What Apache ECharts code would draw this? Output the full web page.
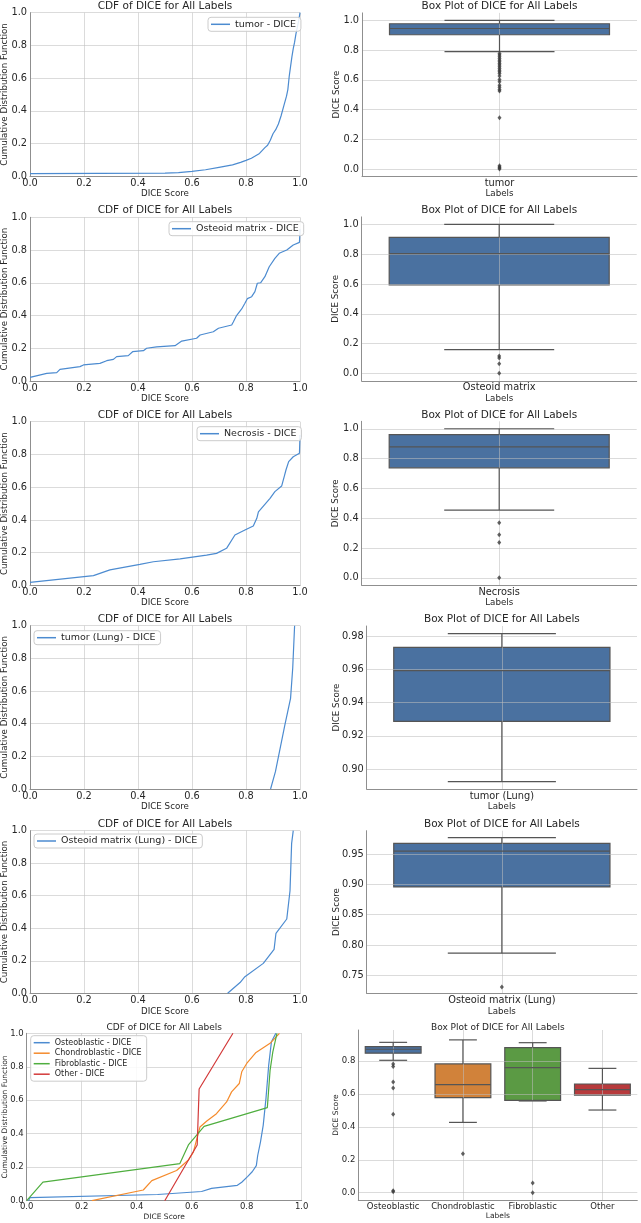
<!DOCTYPE html>
<html>
<head>
<meta charset="utf-8">
<title>DICE CDF and box plots</title>
<script src="https://cdn.jsdelivr.net/npm/echarts@6/dist/echarts.min.js"></script>
<style>
  html, body { margin: 0; padding: 0; background: #ffffff; }
  #chart { width: 641px; height: 1223px; }
</style>
</head>
<body>
<div id="chart"></div>
<script>
// ---- values ----
// CDF curves: [DICE score, cumulative fraction]
const tumorCdf = [[0, 0.016], [0.5, 0.02], [0.55, 0.022], [0.6, 0.03], [0.65, 0.04], [0.7, 0.055], [0.75, 0.07], [0.78, 0.085], [0.8, 0.097], [0.82, 0.11], [0.85, 0.14], [0.87, 0.175], [0.88, 0.19], [0.89, 0.22], [0.9, 0.26], [0.91, 0.285], [0.92, 0.32], [0.93, 0.37], [0.94, 0.43], [0.95, 0.49], [0.955, 0.53], [0.96, 0.61], [0.965, 0.67], [0.97, 0.73], [0.975, 0.78], [0.98, 0.82], [0.985, 0.87], [0.99, 0.91], [0.995, 0.95], [1.0, 1.0]]
const osteoidCdf = [[0, 0.022], [0.062, 0.047], [0.099, 0.051], [0.111, 0.071], [0.185, 0.088], [0.198, 0.098], [0.259, 0.108], [0.284, 0.124], [0.309, 0.132], [0.321, 0.149], [0.364, 0.155], [0.38, 0.179], [0.42, 0.185], [0.432, 0.2], [0.469, 0.208], [0.537, 0.216], [0.562, 0.244], [0.617, 0.261], [0.63, 0.281], [0.679, 0.301], [0.698, 0.322], [0.747, 0.342], [0.753, 0.36], [0.765, 0.4], [0.784, 0.44], [0.796, 0.475], [0.805, 0.503], [0.821, 0.515], [0.833, 0.546], [0.842, 0.597], [0.854, 0.6], [0.87, 0.637], [0.886, 0.698], [0.907, 0.749], [0.923, 0.78], [0.951, 0.8], [0.975, 0.831], [0.998, 0.847], [1.0, 0.927]]
const necrosisCdf = [[0, 0.019], [0.235, 0.06], [0.296, 0.095], [0.407, 0.129], [0.457, 0.145], [0.556, 0.162], [0.654, 0.186], [0.691, 0.196], [0.728, 0.227], [0.759, 0.308], [0.796, 0.339], [0.827, 0.363], [0.84, 0.41], [0.846, 0.45], [0.889, 0.532], [0.907, 0.573], [0.932, 0.607], [0.942, 0.668], [0.948, 0.705], [0.958, 0.756], [0.975, 0.786], [0.998, 0.807], [1.0, 0.919]]
const tumorLungCdf = [[0.891, 0], [0.909, 0.106], [0.944, 0.392], [0.965, 0.555], [0.973, 0.739], [0.98, 1.0]]
const osteoidLungCdf = [[0.732, 0], [0.778, 0.066], [0.796, 0.102], [0.864, 0.184], [0.904, 0.27], [0.911, 0.369], [0.951, 0.457], [0.963, 0.631], [0.969, 0.922], [0.975, 1.0]]
const osteoblasticCdf = [[0.006, 0], [0.012, 0.018], [0.476, 0.037], [0.636, 0.055], [0.672, 0.074], [0.766, 0.092], [0.782, 0.11], [0.804, 0.145], [0.82, 0.173], [0.835, 0.21], [0.84, 0.27], [0.85, 0.35], [0.86, 0.45], [0.87, 0.61], [0.88, 0.81], [0.89, 0.95], [0.906, 1.0]]
const chondroblasticCdf = [[0.237, 0], [0.424, 0.064], [0.455, 0.12], [0.545, 0.18], [0.588, 0.243], [0.606, 0.29], [0.63, 0.44], [0.655, 0.476], [0.69, 0.52], [0.727, 0.59], [0.745, 0.65], [0.773, 0.7], [0.782, 0.77], [0.8, 0.82], [0.834, 0.886], [0.885, 0.94], [0.919, 1.0]]
const fibroblasticCdf = [[0, 0], [0.059, 0.111], [0.557, 0.222], [0.588, 0.333], [0.645, 0.444], [0.875, 0.556], [0.88, 0.667], [0.885, 0.778], [0.895, 0.889], [0.91, 1.0]]
const otherCdf = [[0.502, 0], [0.62, 0.333], [0.627, 0.667], [0.75, 1.0]]

// box stats: [lower whisker, Q1, median, Q3, upper whisker]
const tumorBox = [0.79, 0.903, 0.945, 0.977, 1.0]
const osteoidBox = [0.159, 0.593, 0.804, 0.912, 1.0]
const necrosisBox = [0.454, 0.738, 0.879, 0.96, 1.0]
const tumorLungBox = [0.8924, 0.9287, 0.9592, 0.9732, 0.9814]
const osteoidLungBox = [0.7867, 0.8959, 0.955, 0.9675, 0.977]
const subtypeLabels = ['Osteoblastic', 'Chondroblastic', 'Fibroblastic', 'Other']
const subtypeBoxes = [
  [0.804, 0.847, 0.871, 0.887, 0.913],
  [0.427, 0.577, 0.656, 0.782, 0.928],
  [0.557, 0.561, 0.759, 0.881, 0.911],
  [0.502, 0.593, 0.626, 0.66, 0.755],
]

// outliers
const tumorOut = [0.777, 0.766, 0.755, 0.744, 0.732, 0.721, 0.71, 0.699, 0.688, 0.676, 0.665, 0.654, 0.643, 0.625, 0.602, 0.587, 0.564, 0.549, 0.535, 0.524, 0.345, 0.022, 0.013, 0.007, 0.0]
const osteoidOut = [0.116, 0.103, 0.065, 0.0]
const necrosisOut = [0.369, 0.289, 0.237, 0.0]
const osteoidLungOut = [0.731]
const subtypeOut = [
  [0.782, 0.766, 0.672, 0.636, 0.476, 0.012, 0.006],
  [0.237],
  [0.059, 0.0],
  [],
]

// tick values on the box plot axes
const unitTicks = [0, 0.2, 0.4, 0.6, 0.8, 1.0]
const tumorLungTicks = [0.9, 0.92, 0.94, 0.96, 0.98]
const osteoidLungTicks = [0.75, 0.8, 0.85, 0.9, 0.95]
const subtypeTicks = [0, 0.2, 0.4, 0.6, 0.8]

// ---- styling ----
const font = 'DejaVu Sans'
const ink = '#262626'
const gridLine = 'rgba(190,190,190,0.55)'
const spine = '#8f8f8f'
const edge = '#555555'
const lineColors = ['#4c8bd0', '#f58b2c', '#4fae3f', '#d33a3a']
const boxColors = ['#4a71a0', '#d1823a', '#5b9a44', '#b73a3c']

const option = {
  animation: false,
  backgroundColor: '#ffffff',
  title: [],
  legend: [],
  grid: [],
  xAxis: [],
  yAxis: [],
  series: [],
}

function addTitle(text, x, y, size) {
  option.title.push({
    text: text, left: x, top: y, padding: 0,
    textAlign: 'center', textVerticalAlign: 'middle',
    textStyle: { fontFamily: font, fontSize: size, fontWeight: 'normal', color: ink },
  })
}

function addGrid(g) {
  option.grid.push({ left: g[0], top: g[1], width: g[2], height: g[3], containLabel: false, outerBoundsMode: 'none' })
  return option.grid.length - 1
}

function lineStyleOf(w) {
  return { stroke: edge, lineWidth: w }
}

// box face (drawn under grid lines)
function renderFace(params, api) {
  const i = api.value(0)
  const p3 = api.coord([i, api.value(4)])
  const p1 = api.coord([i, api.value(2)])
  const half = api.size([0.8, 0])[0] / 2
  return {
    type: 'rect',
    shape: { x: p3[0] - half, y: p3[1], width: half * 2, height: p1[1] - p3[1] },
    style: { fill: api.visual('color'), stroke: edge, lineWidth: 1.2 },
  }
}

// whiskers, caps and median (drawn over grid lines)
function renderWhisk(params, api) {
  const i = api.value(0)
  const lo = api.coord([i, api.value(1)])
  const q1 = api.coord([i, api.value(2)])
  const med = api.coord([i, api.value(3)])
  const q3 = api.coord([i, api.value(4)])
  const hi = api.coord([i, api.value(5)])
  const cx = med[0]
  const half = api.size([0.8, 0])[0] / 2
  const cap = half / 2
  return {
    type: 'group',
    children: [
      { type: 'line', shape: { x1: cx, y1: q3[1], x2: cx, y2: hi[1] }, style: lineStyleOf(1.2) },
      { type: 'line', shape: { x1: cx, y1: q1[1], x2: cx, y2: lo[1] }, style: lineStyleOf(1.2) },
      { type: 'line', shape: { x1: cx - cap, y1: hi[1], x2: cx + cap, y2: hi[1] }, style: lineStyleOf(1.2) },
      { type: 'line', shape: { x1: cx - cap, y1: lo[1], x2: cx + cap, y2: lo[1] }, style: lineStyleOf(1.2) },
      { type: 'line', shape: { x1: cx - half, y1: med[1], x2: cx + half, y2: med[1] }, style: lineStyleOf(1.2) },
    ],
  }
}

function cdfPanel(p) {
  const gi = addGrid(p.grid)
  const f = p.fonts
  addTitle('CDF of DICE for All Labels', p.grid[0] + p.grid[2] / 2, p.titleY, f.title)
  option.xAxis.push({
    gridIndex: gi, type: 'value', min: 0, max: 1, interval: 0.2,
    name: 'DICE Score', nameLocation: 'middle', nameGap: p.xGap, nameMoveOverlap: false,
    nameTextStyle: { fontFamily: font, fontSize: f.label, color: ink },
    axisLine: { onZero: false, lineStyle: { color: spine, width: 1 } },
    axisTick: { show: false },
    axisLabel: { margin: 2, fontFamily: font, fontSize: f.tick, color: ink, formatter: v => v.toFixed(1) },
    splitLine: { show: true, lineStyle: { color: gridLine, width: 1 } },
  })
  option.yAxis.push({
    gridIndex: gi, type: 'value', min: 0, max: 1, interval: 0.2,
    name: 'Cumulative Distribution Function', nameLocation: 'middle', nameGap: p.yGap, nameMoveOverlap: false,
    nameTextStyle: { fontFamily: font, fontSize: f.label, color: ink },
    axisLine: { show: true, onZero: false, lineStyle: { color: spine, width: 1 } },
    axisTick: { show: false },
    axisLabel: { margin: 3, fontFamily: font, fontSize: f.tick, color: ink, formatter: v => v.toFixed(1) },
    splitLine: { show: true, lineStyle: { color: gridLine, width: 1 } },
  })
  const names = []
  p.lines.forEach(function (l, k) {
    names.push({ name: l.name, icon: 'rect' })
    option.series.push({
      type: 'line', name: l.name, xAxisIndex: gi, yAxisIndex: gi,
      data: l.data, symbol: 'none', smooth: false, clip: true,
      lineStyle: { width: 1.2, color: lineColors[k] },
      itemStyle: { color: lineColors[k] },
      z: 3,
    })
  })
  option.legend.push({
    data: names, selectedMode: false,
    left: p.legend.x, top: p.legend.y,
    orient: 'vertical', itemWidth: p.legend.iconW, itemHeight: 1.5, itemGap: p.legend.gap,
    padding: p.legend.pad,
    borderColor: '#cccccc', borderWidth: 1, borderRadius: 3,
    backgroundColor: 'rgba(255,255,255,0.85)',
    textStyle: { fontFamily: font, fontSize: f.legend, color: ink },
  })
}

function boxPanel(p) {
  const gi = addGrid(p.grid)
  const f = p.fonts
  const n = p.labels.length
  const idx = p.labels.map((_, i) => i)
  addTitle('Box Plot of DICE for All Labels', p.grid[0] + p.grid[2] / 2, p.titleY, f.title)
  option.xAxis.push({
    gridIndex: gi, type: 'value', min: -0.5, max: n - 0.5, z: 2,
    name: 'Labels', nameLocation: 'middle', nameGap: p.xGap, nameMoveOverlap: false,
    nameTextStyle: { fontFamily: font, fontSize: f.label, color: ink },
    axisLine: { onZero: false, lineStyle: { color: spine, width: 1 } },
    axisTick: { show: false, customValues: idx },
    axisLabel: { margin: 2, customValues: idx, fontFamily: font, fontSize: f.tick, color: ink, formatter: v => p.labels[Math.round(v)] },
    splitLine: { show: true, lineStyle: { color: gridLine, width: 1 } },
  })
  option.yAxis.push({
    gridIndex: gi, type: 'value', min: p.yMin, max: p.yMax, z: 2,
    name: 'DICE Score', nameLocation: 'middle', nameGap: p.yGap, nameMoveOverlap: false,
    nameTextStyle: { fontFamily: font, fontSize: f.label, color: ink },
    axisLine: { show: true, onZero: false, lineStyle: { color: spine, width: 1 } },
    axisTick: { show: false, customValues: p.ticks },
    axisLabel: { margin: 3, customValues: p.ticks, fontFamily: font, fontSize: f.tick, color: ink, formatter: v => v.toFixed(p.digits) },
    splitLine: { show: true, lineStyle: { color: gridLine, width: 1 } },
  })
  const boxData = p.stats.map((s, i) => ({ value: [i].concat(s), itemStyle: { color: boxColors[i] } }))
  option.series.push({
    type: 'custom', xAxisIndex: gi, yAxisIndex: gi, z: 1,
    renderItem: renderFace, encode: { x: 0, y: [1, 2, 3, 4, 5] }, data: boxData,
  })
  option.series.push({
    type: 'custom', xAxisIndex: gi, yAxisIndex: gi, z: 3,
    renderItem: renderWhisk, encode: { x: 0, y: [1, 2, 3, 4, 5] }, data: boxData,
  })
  const pts = []
  p.outliers.forEach((vals, i) => vals.forEach(v => pts.push([i, v])))
  option.series.push({
    type: 'scatter', xAxisIndex: gi, yAxisIndex: gi, z: 4,
    symbol: 'diamond', symbolSize: [4, 5],
    itemStyle: { color: '#3a3a3a' }, data: pts,
  })
}

const big = { title: 10.5, tick: 9.8, label: 8.7, legend: 9.5 }
const small = { title: 9, tick: 8.5, label: 7.5, legend: 8 }
const oneLegend = { iconW: 19, gap: 4, pad: [2, 5, 2, 3] }

cdfPanel({ grid: [30, 12.7, 270, 163.6], titleY: 6, xGap: 12.5, yGap: 20.5, fonts: big,
  lines: [{ name: 'tumor - DICE', data: tumorCdf }], legend: Object.assign({ x: 208, y: 17.3 }, oneLegend) })
boxPanel({ grid: [362, 12.9, 275, 163.5], titleY: 6, xGap: 13, yGap: 21, fonts: big,
  labels: ['tumor'], stats: [tumorBox], outliers: [tumorOut], yMin: -0.05, yMax: 1.05, ticks: unitTicks, digits: 1 })

cdfPanel({ grid: [30, 217.3, 270, 163.7], titleY: 210, xGap: 13.5, yGap: 20.5, fonts: big,
  lines: [{ name: 'Osteoid matrix - DICE', data: osteoidCdf }], legend: Object.assign({ x: 169, y: 221.7 }, oneLegend) })
boxPanel({ grid: [361.7, 216.9, 275, 163.9], titleY: 210.5, xGap: 13.5, yGap: 21, fonts: big,
  labels: ['Osteoid matrix'], stats: [osteoidBox], outliers: [osteoidOut], yMin: -0.05, yMax: 1.05, ticks: unitTicks, digits: 1 })

cdfPanel({ grid: [30, 421.7, 270, 163.8], titleY: 415, xGap: 12.8, yGap: 20.5, fonts: big,
  lines: [{ name: 'Necrosis - DICE', data: necrosisCdf }], legend: Object.assign({ x: 197, y: 426.7 }, oneLegend) })
boxPanel({ grid: [361.7, 421.3, 275, 163.9], titleY: 415, xGap: 13, yGap: 21, fonts: big,
  labels: ['Necrosis'], stats: [necrosisBox], outliers: [necrosisOut], yMin: -0.05, yMax: 1.05, ticks: unitTicks, digits: 1 })

cdfPanel({ grid: [30, 625.7, 270, 163.3], titleY: 619, xGap: 13.5, yGap: 20.5, fonts: big,
  lines: [{ name: 'tumor (Lung) - DICE', data: tumorLungCdf }], legend: Object.assign({ x: 34, y: 630.7 }, oneLegend) })
boxPanel({ grid: [366.7, 626, 270.3, 163], titleY: 619, xGap: 13.5, yGap: 25.5, fonts: big,
  labels: ['tumor (Lung)'], stats: [tumorLungBox], outliers: [[]], yMin: 0.888, yMax: 0.986, ticks: tumorLungTicks, digits: 2 })

cdfPanel({ grid: [30, 830.7, 270, 162.6], titleY: 824, xGap: 14, yGap: 20.5, fonts: big,
  lines: [{ name: 'Osteoid matrix (Lung) - DICE', data: osteoidLungCdf }], legend: Object.assign({ x: 34, y: 834 }, oneLegend) })
boxPanel({ grid: [366.7, 830.7, 270.3, 162.6], titleY: 824, xGap: 14, yGap: 25.5, fonts: big,
  labels: ['Osteoid matrix (Lung)'], stats: [osteoidLungBox], outliers: [osteoidLungOut], yMin: 0.7205, yMax: 0.9885, ticks: osteoidLungTicks, digits: 2 })

cdfPanel({ grid: [26.7, 1033.3, 275, 167.4], titleY: 1027.3, xGap: 12, yGap: 18, fonts: small,
  lines: [
    { name: 'Osteoblastic - DICE', data: osteoblasticCdf },
    { name: 'Chondroblastic - DICE', data: chondroblasticCdf },
    { name: 'Fibroblastic - DICE', data: fibroblasticCdf },
    { name: 'Other - DICE', data: otherCdf },
  ],
  legend: { x: 30.7, y: 1035.7, iconW: 16, gap: 2.5, pad: [3, 5, 3, 3] } })
boxPanel({ grid: [358.3, 1030, 279, 170], titleY: 1027.3, xGap: 12.5, yGap: 18.5, fonts: small,
  labels: subtypeLabels, stats: subtypeBoxes, outliers: subtypeOut, yMin: -0.0443, yMax: 0.988, ticks: subtypeTicks, digits: 1 })

const chart = echarts.init(document.getElementById('chart'))
chart.setOption(option)
window.onresize = function () {
  chart.resize()
}
</script>
</body>
</html>
